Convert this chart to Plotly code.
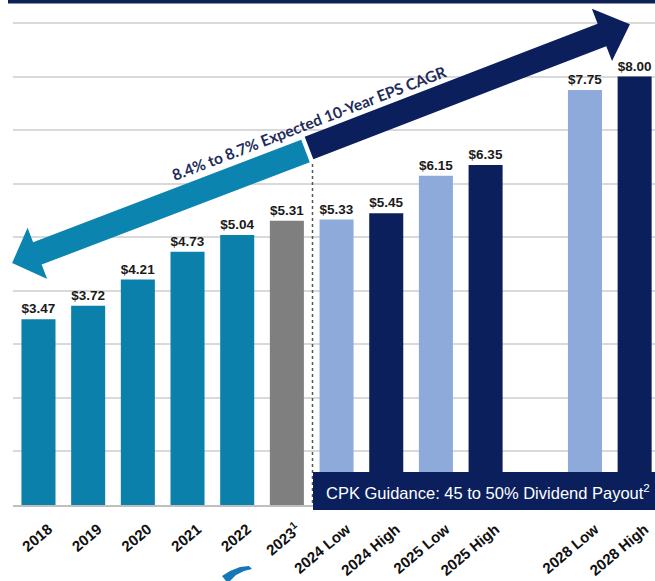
import math
import plotly.graph_objects as go

# ---- data ----
categories = ["2018", "2019", "2020", "2021", "2022", "2023",
              "2024 Low", "2024 High", "2025 Low", "2025 High",
              "2028 Low", "2028 High"]
tick_labels = ["2018", "2019", "2020", "2021", "2022", "2023<sup>1</sup>",
               "2024 Low", "2024 High", "2025 Low", "2025 High",
               "2028 Low", "2028 High"]
eps = [3.47, 3.72, 4.21, 4.73, 5.04, 5.31, 5.33, 5.45, 6.15, 6.35, 7.75, 8.00]
kind = ["hist"] * 5 + ["est", "low", "high", "low", "high", "low", "high"]
arrow_text = "8.4% to 8.7% Expected 10-Year EPS CAGR"
box_text = "CPK Guidance: 45 to 50% Dividend Payout<sup>2</sup>"

# category order with a blank gap slot before 2028
cat_order = categories[:10] + [" "] + categories[10:]

TEAL = "#0a80ab"
GRAY = "#7f7f7f"
LIGHT = "#8eaadb"
NAVY = "#0b1f5c"
colors = {"hist": TEAL, "est": GRAY, "low": LIGHT, "high": NAVY}

W, H = 655, 581
ML, MR, MT, MB = 13, 0, 0, 76
PW, PH = W - ML - MR, H - MT - MB


def to_paper(px, py):
    return (px - ML) / PW, (H - MB - py) / PH


def arrow_path(cx, cy, ang_deg, length, shaft_hw, head_len, head_hw):
    a = math.radians(ang_deg)
    ux, uy = math.cos(a), math.sin(a)
    nx, ny = -uy, ux
    pts_local = [(0, -shaft_hw), (length - head_len, -shaft_hw),
                 (length - head_len, -head_hw), (length, 0),
                 (length - head_len, head_hw), (length - head_len, shaft_hw),
                 (0, shaft_hw)]
    pts = []
    for s, t in pts_local:
        pts.append(to_paper(cx + ux * s + nx * t, cy + uy * s + ny * t))
    return "M " + " L ".join(f"{x:.5f},{y:.5f}" for x, y in pts) + " Z"


def poly_path(points):
    pts = [to_paper(px, py) for px, py in points]
    return "M " + " L ".join(f"{x:.5f},{y:.5f}" for x, y in pts) + " Z"


fig = go.Figure()
fig.add_trace(go.Bar(
    x=categories, y=eps,
    marker=dict(color=[colors[k] for k in kind], line=dict(width=0)),
    width=0.685,
    text=[f"${v:.2f}" for v in eps],
    textposition="outside",
    textfont=dict(family="Liberation Sans, Arial", size=14, color="#1a1a1a", weight="bold"),
    cliponaxis=False,
    hoverinfo="skip",
))

shapes = []
# top navy band
x0, y0 = to_paper(8, 0)
x1, y1 = to_paper(655, 3.5)
shapes.append(dict(type="rect", xref="paper", yref="paper", x0=x0, x1=x1, y0=y1, y1=y0,
                   fillcolor="#0e2155", line=dict(width=0), layer="above"))
# dashed separator
dx, dy0 = to_paper(312.5, 164)
_, dy1 = to_paper(312.5, 505)
shapes.append(dict(type="line", xref="paper", yref="paper", x0=dx, x1=dx, y0=dy0, y1=dy1,
                   line=dict(color="#555555", width=1.5, dash="dot"), layer="above"))
# cyan arrow (pointing down-left)
shapes.append(dict(type="path", xref="paper", yref="paper",
                   path=arrow_path(305.5, 151, 180 - 20.9, 314, 12, 27, 27.5),
                   fillcolor="#0b84b0", line=dict(width=0), layer="above"))
# navy arrow (pointing up-right)
shapes.append(dict(type="path", xref="paper", yref="paper",
                   path=arrow_path(309, 148, -21.1, 344, 12, 30, 28),
                   fillcolor=NAVY, line=dict(width=0), layer="above"))
# guidance box
bx0, by0 = to_paper(313, 472)
bx1, by1 = to_paper(655, 510)
shapes.append(dict(type="rect", xref="paper", yref="paper", x0=bx0, x1=bx1, y0=by1, y1=by0,
                   fillcolor="#0b1f5c", line=dict(width=0), layer="above"))
# partially visible logo swoosh at the bottom edge
shapes.append(dict(type="path", xref="paper", yref="paper",
                   path=poly_path([(222, 576), (230, 571), (240, 567), (249, 566),
                                   (252, 569), (244, 571), (236, 575), (230, 581),
                                   (226, 581)]),
                   fillcolor="#1577b8", line=dict(width=0), layer="above"))

annotations = []
tx, ty = to_paper(309, 123)
annotations.append(dict(xref="paper", yref="paper", x=tx, y=ty, text=f"<b>{arrow_text}</b>",
                        showarrow=False, textangle=-21,
                        font=dict(family="Lato, Open Sans", size=15.5, color="#1f2d5c"),
                        xanchor="center", yanchor="middle"))
gx, gy = to_paper(488, 492)
annotations.append(dict(xref="paper", yref="paper", x=gx, y=gy, text=box_text,
                        showarrow=False,
                        font=dict(family="Liberation Sans, Arial", size=16.5, color="white"),
                        xanchor="center", yanchor="middle"))

fig.update_layout(
    width=W, height=H,
    margin=dict(l=ML, r=MR, t=MT, b=MB, pad=0),
    paper_bgcolor="white", plot_bgcolor="white",
    showlegend=False,
    shapes=shapes,
    annotations=annotations,
    xaxis=dict(
        type="category",
        categoryorder="array", categoryarray=cat_order,
        range=[-0.513, 12.41],
        tickmode="array", tickvals=categories, ticktext=tick_labels,
        tickangle=-40,
        tickfont=dict(family="Liberation Sans, Arial", size=15, color="#111111", weight="bold"),
        ticks="", ticklabelstandoff=8, ticklabelshift=10,
        showline=True, linecolor="#bfbfbf", linewidth=1.5,
        showgrid=False, fixedrange=True,
    ),
    yaxis=dict(
        range=[0, 9.43],
        dtick=1, showticklabels=False,
        showgrid=True, gridcolor="#d9d9d9", gridwidth=1.5,
        zeroline=False, fixedrange=True,
    ),
)

fig.write_html("out.html")
